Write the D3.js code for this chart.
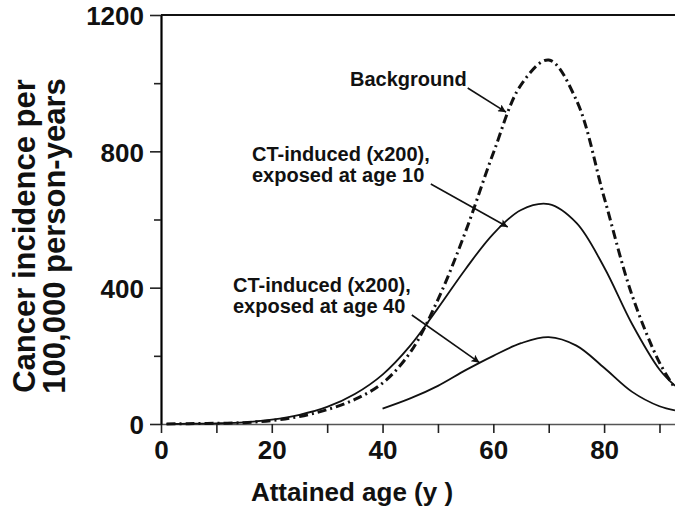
<!DOCTYPE html>
<html>
<head>
<meta charset="utf-8">
<script src="https://cdn.jsdelivr.net/npm/d3@7"></script>
<style>
  body { margin: 0; background: #fff; }
  svg text { font-family: "Liberation Sans", Arial, sans-serif; font-weight: bold; fill: #111; }
</style>
</head>
<body>
<div id="chart"></div>
<script>
// attained age (y)
var ages = [1, 5, 10, 15, 20, 25, 30, 35, 40, 45, 50, 55, 60, 65, 70, 75, 80, 85, 90, 92.8];
// cancer incidence per 100,000 person-years
var background = [0, 1, 2, 4, 10, 22, 42, 72, 120, 210, 365, 565, 795, 995, 1068, 950, 665, 380, 180, 105];
var ctAge10 = [0, 1, 2, 5, 13, 27, 50, 88, 145, 230, 340, 455, 558, 628, 645, 590, 460, 295, 160, 112];
var ageFrom40 = [40, 45, 50, 55, 60, 65, 70, 75, 80, 85, 90, 92.8];
var ctAge40 = [45, 75, 112, 158, 200, 237, 255, 230, 165, 95, 52, 40];

var xTicks = [0, 20, 40, 60, 80];
var xMinor = [10, 30, 50, 70, 90];
var yTicks = [0, 400, 800, 1200];
var yMinor = [200, 600, 1000];

// annotation labels: lines of text and the point (age, value) the arrow points at
var notes = [
    { lines: ["Background"], x: 350, y: 86, tip: [62.3, 915] },
    { lines: ["CT-induced (x200),", "exposed at age 10"], x: 252, y: 161, tip: [62.6, 578] },
    { lines: ["CT-induced (x200),", "exposed at age 40"], x: 233, y: 292, tip: [57.5, 180] }
];

function drawChart() {
    var svg = d3.select("#chart").append("svg")
        .attr("width", 675)
        .attr("height", 507);

    var x = d3.scaleLinear().domain([0, 92.8]).range([161, 675]);
    var y = d3.scaleLinear().domain([0, 1200]).range([424, 15]);

    svg.append("defs").append("marker")
        .attr("id", "arrow")
        .attr("viewBox", "0 0 10 10")
        .attr("refX", 10)
        .attr("refY", 5)
        .attr("markerWidth", 12)
        .attr("markerHeight", 8)
        .attr("markerUnits", "userSpaceOnUse")
        .attr("orient", "auto")
        .append("path")
        .attr("d", "M0,0L10,5L0,10L2,5z")
        .attr("fill", "#111");

    // x axis (major + minor ticks)
    var gx = svg.append("g")
        .attr("transform", "translate(0," + y(0) + ")")
        .call(d3.axisBottom(x).tickValues(xTicks).tickSize(9).tickSizeOuter(0).tickPadding(5));
    svg.append("g")
        .attr("transform", "translate(0," + y(0) + ")")
        .call(d3.axisBottom(x).tickValues(xMinor).tickSize(9).tickFormat(""))
        .select(".domain").remove();
    gx.select(".domain").attr("stroke", "#555").attr("stroke-width", 1.5);
    gx.selectAll("text").attr("font-size", 26).attr("dy", "0.8em");

    // y axis
    var gy = svg.append("g")
        .attr("transform", "translate(" + x(0) + ",0)")
        .call(d3.axisLeft(y).tickValues(yTicks).tickFormat(d3.format("d"))
            .tickSize(11).tickSizeOuter(0).tickPadding(6));
    svg.append("g")
        .attr("transform", "translate(" + x(0) + ",0)")
        .call(d3.axisLeft(y).tickValues(yMinor).tickSize(7).tickFormat(""))
        .select(".domain").remove();
    gy.select(".domain").attr("stroke-width", 2.2);
    gy.selectAll("text").attr("font-size", 26).attr("dy", "0.38em");
    svg.selectAll(".tick line").attr("stroke", "#222").attr("stroke-width", 1.6);

    // top frame line
    svg.append("line")
        .attr("x1", x(0)).attr("x2", x(92.8))
        .attr("y1", y(1200)).attr("y2", y(1200))
        .attr("stroke", "#111").attr("stroke-width", 2);

    // axis titles
    svg.append("text")
        .attr("x", 352).attr("y", 501)
        .attr("text-anchor", "middle")
        .attr("font-size", 26)
        .text("Attained age (y )");

    var yt = svg.append("text")
        .attr("transform", "translate(35,236) rotate(-90)")
        .attr("text-anchor", "middle")
        .attr("font-size", 31);
    yt.append("tspan").attr("x", 0).attr("dy", 0).text("Cancer incidence per");
    yt.append("tspan").attr("x", 0).attr("dy", 30).text("100,000 person-years");

    // curves
    var line = d3.line()
        .x(function (d) { return x(d[0]); })
        .y(function (d) { return y(d[1]); })
        .curve(d3.curveCatmullRom.alpha(0.5));

    svg.append("path")
        .datum(d3.zip(ages, background))
        .attr("d", line)
        .attr("fill", "none")
        .attr("stroke", "#111")
        .attr("stroke-width", 3)
        .attr("stroke-dasharray", "9,4,2,4");

    svg.append("path")
        .datum(d3.zip(ages, ctAge10))
        .attr("d", line)
        .attr("fill", "none")
        .attr("stroke", "#111")
        .attr("stroke-width", 1.8);

    svg.append("path")
        .datum(d3.zip(ageFrom40, ctAge40))
        .attr("d", line)
        .attr("fill", "none")
        .attr("stroke", "#111")
        .attr("stroke-width", 1.8);

    // annotations with arrows
    notes.forEach(function (n) {
        var t = svg.append("text").attr("font-size", 20);
        n.lines.forEach(function (s, i) {
            t.append("tspan").attr("x", n.x).attr("y", n.y + i * 21).text(s);
        });
        var w = t.node().getBBox();
        svg.append("line")
            .attr("x1", w.x + w.width + 1)
            .attr("y1", n.y + (n.lines.length - 1) * 21 + 2)
            .attr("x2", x(n.tip[0]))
            .attr("y2", y(n.tip[1]))
            .attr("stroke", "#111")
            .attr("stroke-width", 1.6)
            .attr("marker-end", "url(#arrow)");
    });
}

drawChart();
</script>
</body>
</html>
